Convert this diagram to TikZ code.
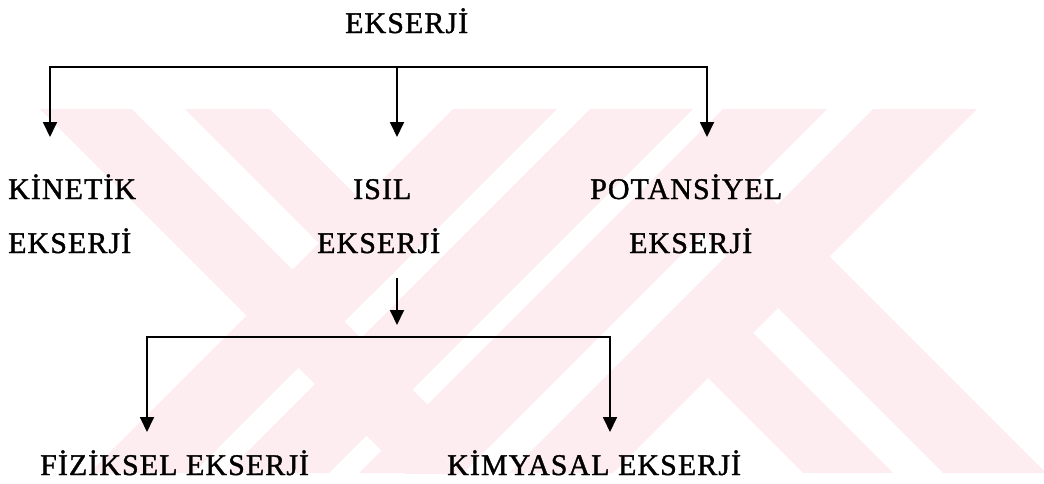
\documentclass[tikz,border=0pt]{standalone}
\usepackage{fontspec}
\setmainfont{Liberation Serif}[LetterSpace=3.5,FakeBold=1.2]
\usetikzlibrary{arrows.meta}
\definecolor{wmpink}{RGB}{253,236,240}
\tikzset{
  wm/.style={fill=wmpink, draw=none},
  lbl/.style={font=\fontsize{30}{30}\selectfont, inner sep=0pt, anchor=base west},
  bar/.style={line width=1.8pt, line cap=rect},
  arr/.style={line width=1.8pt, -{Triangle[width=14pt,length=15pt]}}
}
\begin{document}
\begin{tikzpicture}[x=1pt,y=-1pt]
\useasboundingbox (0,0) rectangle (1044,483);
% watermark
\begin{scope}
\clip (40,109) rectangle (1044,473);
\fill[wm] (453,109) -- (557,109) -- (193,473) -- (89,473) -- cycle;
\fill[wm] (590,109) -- (693,109) -- (329,473) -- (226,473) -- cycle;
\fill[wm] (723,109) -- (827,109) -- (463,473) -- (359,473) -- cycle;
\fill[wm] (873,109) -- (977,109) -- (613,473) -- (509,473) -- cycle;
\fill[wm] (40,109) -- (132,109) -- (479.5,456.5) -- (433.5,502.5) -- cycle;
\fill[wm] (185,109) -- (270,109) -- (413.5,252.5) -- (371,295) -- cycle;
\fill[wm] (660,190) -- (711.5,138.5) -- (1046,473) -- (943,473) -- cycle;
\fill[wm] (708,378) -- (753,333) -- (893,473) -- (803,473) -- cycle;
\end{scope}
% texts
\node[lbl] (top) at (345,33) {EKSERJİ};
\node[lbl] (kin1) at (8,199) {KİNETİK};
\node[lbl] (kin2) at (8,253) {EKSERJİ};
\node[lbl] (isi1) at (353,199) {ISIL};
\node[lbl] (isi2) at (317,253) {EKSERJİ};
\node[lbl] (pot1) at (590,199) {POTANSİYEL};
\node[lbl] (pot2) at (629,253) {EKSERJİ};
\node[lbl] (fiz) at (40,475) {FİZİKSEL EKSERJİ};
\node[lbl] (kim) at (447,475) {KİMYASAL EKSERJİ};
% junctions
\coordinate (a1) at (50,67);
\coordinate (a2) at (397,67);
\coordinate (a3) at (707,67);
\coordinate (t1) at (50,137);
\coordinate (t2) at (397,137);
\coordinate (t3) at (707,137);
\coordinate (m0) at (397,278);
\coordinate (m1) at (397,325);
\coordinate (b1) at (147,337);
\coordinate (b2) at (610,337);
\coordinate (u1) at (147,432);
\coordinate (u2) at (610,432);
\draw[bar] (a1) -- (a3);
\draw[arr] (a1) -- (t1);
\draw[arr] (a2) -- (t2);
\draw[arr] (a3) -- (t3);
\draw[arr] (m0) -- (m1);
\draw[bar] (b1) -- (b2);
\draw[arr] (b1) -- (u1);
\draw[arr] (b2) -- (u2);
\end{tikzpicture}
\end{document}
